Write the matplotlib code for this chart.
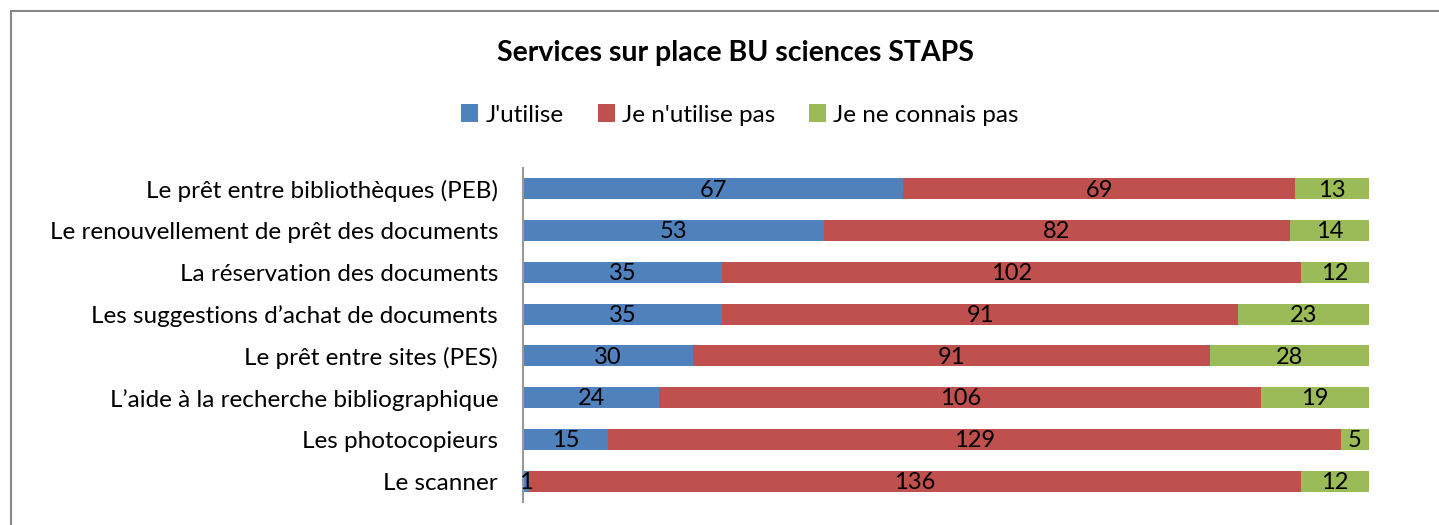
import matplotlib
matplotlib.use("Agg")
import matplotlib.pyplot as plt
from matplotlib.patches import Rectangle, Patch
import numpy as np

plt.rcParams['font.family'] = ['Lato', 'DejaVu Sans']

categories = ["Le prêt entre bibliothèques (PEB)",
              "Le renouvellement de prêt des documents",
              "La réservation des documents",
              "Les suggestions d\u2019achat de documents",
              "Le prêt entre sites (PES)",
              "L\u2019aide à la recherche bibliographique",
              "Les photocopieurs",
              "Le scanner"]
series_names = ["J'utilise", "Je n'utilise pas", "Je ne connais pas"]
utilise = [67, 53, 35, 35, 30, 24, 15, 1]
n_utilise_pas = [69, 82, 102, 91, 91, 106, 129, 136]
ne_connais_pas = [13, 14, 12, 23, 28, 19, 5, 12]
colors = ["#4F81BD", "#C0504D", "#9BBB59"]

W, H = 1439, 525
fig = plt.figure(figsize=(W/100, H/100), dpi=100)
ax = fig.add_axes([523/W, 23/H, (1369-523)/W, (502-168)/H])

vals = np.array([utilise, n_utilise_pas, ne_connais_pas], dtype=float)
totals = vals.sum(axis=0)
pct = vals / totals
y = np.arange(len(categories))
left = np.zeros(len(categories))
for i in range(3):
    ax.barh(y, pct[i], left=left, height=0.5, color=colors[i], edgecolor='none')
    for j in range(len(categories)):
        ax.text(left[j] + pct[i][j]/2, y[j] + 0.03, str(int(vals[i][j])),
                ha='center', va='center', fontsize=17, color='black')
    left += pct[i]

ax.set_xlim(0, 1)
ax.set_ylim(len(categories) - 0.5, -0.5)
ax.set_yticks(y)
ax.set_yticklabels(categories, fontsize=17.5)
ax.tick_params(axis='y', length=0, pad=18)
ax.set_xticks([])
for s in ['top', 'right', 'bottom']:
    ax.spines[s].set_visible(False)
ax.spines['left'].set_color('#999999')
ax.spines['left'].set_linewidth(1.5)

fig.text(735/W, 1 - 53/H, "Services sur place BU sciences STAPS", ha='center', va='center',
         fontsize=20.5, fontweight='bold')

handles = [Patch(facecolor=c, edgecolor='none') for c in colors]
fig.legend(handles, series_names, loc='center', bbox_to_anchor=(740/W, 1 - 115/H), ncol=3,
           frameon=False, fontsize=17.5, handlelength=0.7, handleheight=0.7,
           handletextpad=0.3, columnspacing=1.4)

fig.patches.append(Rectangle((11/W, -0.05), 1.2, 1 - 11/H + 0.05, transform=fig.transFigure,
                             fill=False, edgecolor='#888888', linewidth=1.5))

fig.savefig("out.png", dpi=100)
